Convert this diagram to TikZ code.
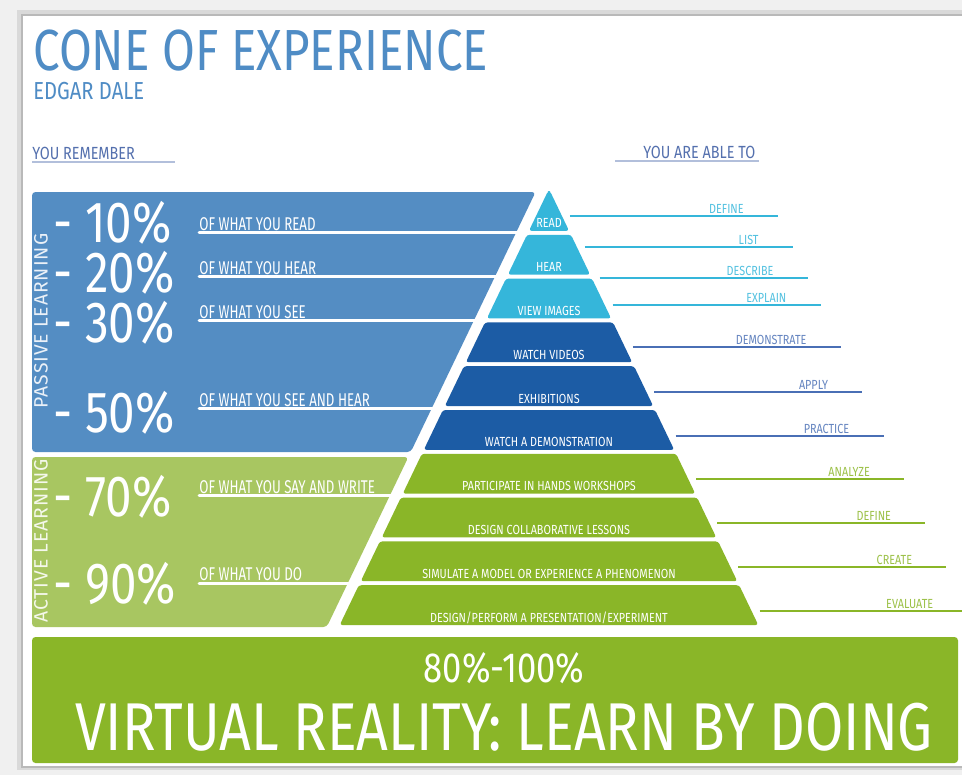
\documentclass[tikz,border=0pt]{standalone}
\usepackage{fontspec}
\setmainfont{Fira Sans}[FakeStretch=0.82]
\newfontfamily\widefont{Fira Sans}[LetterSpace=5]
\newfontfamily\narrowfont{Fira Sans}[FakeStretch=0.72]
\usepackage{tikz}
\usetikzlibrary{positioning,calc}

\definecolor{coneblue}{HTML}{4F8CC5}
\definecolor{headblue}{HTML}{5470AE}
\definecolor{panelblue}{HTML}{548DC3}
\definecolor{panelgreen}{HTML}{A8C661}
\definecolor{skyband}{HTML}{35B6DA}
\definecolor{navyband}{HTML}{1C5CA5}
\definecolor{grassband}{HTML}{8AB628}
\definecolor{midblue}{HTML}{4A6FB5}

\tikzstyle{slicetext}=[text=white, font=\fontsize{7.5}{7.5}\selectfont, inner sep=0pt, anchor=base]
\tikzstyle{pct}=[text=white, font=\fontsize{33}{33}\selectfont, inner sep=0pt, anchor=base west]
\tikzstyle{whatlabel}=[text=white, font=\narrowfont\fontsize{10.5}{10.5}\selectfont, inner sep=0pt, anchor=base west]
\tikzstyle{ablelabel}=[font=\fontsize{7.5}{7.5}\selectfont, inner sep=0pt, anchor=base east]
\tikzstyle{sidelabel}=[text=white!88!panelblue, font=\widefont\fontsize{11}{11}\selectfont, rotate=90, inner sep=0pt]
\tikzstyle{headlabel}=[text=headblue, font=\fontsize{10}{10}\selectfont, inner sep=0pt, anchor=base west]

\begin{document}
\begin{tikzpicture}[x=0.02cm, y=-0.02cm]

            % Page and its shadow
            \fill[gray!12] (0,0) rectangle (962,775);
            \fill[gray!30] (17,10) rectangle (962,770);
            \fill[gray!55] (21,14) rectangle (962,768);
            \fill[white] (23,16) rectangle (962,766);
            \useasboundingbox (0,0) rectangle (962,775);

            % Title
            \node[text=coneblue, font=\fontsize{33}{33}\selectfont, inner sep=0pt, anchor=base west] (title) at (33,70) {CONE OF EXPERIENCE};
            \node[text=coneblue, font=\fontsize{14}{14}\selectfont, inner sep=0pt, anchor=base west] (author) at (33,99) {EDGAR DALE};

            % Column heads
            \node[headlabel] (remember) at (32,159) {YOU REMEMBER};
            \draw[headblue!45, line width=1.2pt] (remember.base west) ++(0,3) -- ++(143,0);
            \node[headlabel] (able) at (643,158) {YOU ARE ABLE TO};
            \draw[headblue!45, line width=1.2pt] (615,161) -- (759,161);

            % Left panels, cut parallel to the cone
            \fill[panelblue, rounded corners=2pt] (32,192) -- ({537-(192-189)*0.48},192) -- ({537-(452-189)*0.48},452) -- (32,452) -- cycle;
            \fill[panelgreen, rounded corners=2pt] (32,457) -- ({537-(457-189)*0.48},457) -- ({537-(627-189)*0.48},627) -- (32,627) -- cycle;

            % White rules under the texts
            \foreach \k in {1,2,3,5,7,9} {
                \pgfmathsetmacro\yr{189+43.8*\k}
                \draw[white, line width=1.7pt, line cap=round] (199,\yr) -- ({545-(\yr-189)*0.48},\yr);
            }

            \node[sidelabel] (passive) at (41,321) {PASSIVE LEARNING};
            \node[sidelabel, text=white!88!panelgreen] (active) at (41,541) {ACTIVE LEARNING};

            % Percentages
            \foreach \y/\p/\w/\t in {242/10/230/READ, 292/20/274/HEAR, 342/30/318/SEE, 432/50/406/SEE AND HEAR, 516/70/493/SAY AND WRITE, 603/90/580/DO} {
                \node[pct] (p\p) at (53,\y) {- \p\%};
                \node[whatlabel] (of\p) at (199,\w) {OF WHAT YOU \t};
            }

            % Cone slices
            \foreach \k/\col/\txt in {0/skyband/READ, 1/skyband/HEAR, 2/skyband/VIEW IMAGES, 3/navyband/WATCH VIDEOS, 4/navyband/EXHIBITIONS, 5/navyband/WATCH A DEMONSTRATION, 6/grassband/PARTICIPATE IN HANDS WORKSHOPS, 7/grassband/DESIGN COLLABORATIVE LESSONS, 8/grassband/SIMULATE A MODEL OR EXPERIENCE A PHENOMENON, 9/grassband/{DESIGN/PERFORM A PRESENTATION/EXPERIMENT}} {
                \pgfmathsetmacro\yt{191+43.8*\k}
                \pgfmathsetmacro\yb{187+43.8*(\k+1)}
                \fill[\col, rounded corners=1.5pt] ({549-(\yt-189)*0.48},\yt) -- ({549+(\yt-189)*0.48},\yt) -- ({549+(\yb-189)*0.48},\yb) -- ({549-(\yb-189)*0.48},\yb) -- cycle;
                \node[slicetext] (s\k) at (549,\yb-3) {\txt};
            }

            % What you are able to do
            \foreach \y/\word/\col [count=\i] in {216/DEFINE/skyband, 247/LIST/skyband, 278/DESCRIBE/skyband, 305/EXPLAIN/skyband, 347/DEMONSTRATE/midblue, 392/APPLY/midblue, 436/PRACTICE/midblue, 479/ANALYZE/grassband, 523/DEFINE/grassband, 567/CREATE/grassband, 611/EVALUATE/grassband} {
                \coordinate (r\i) at ({557+(\y-189)*0.48},\y);
                \coordinate (e\i) at ({765+(\y-189)*0.48},\y);
                \draw[\col, line width=1.2pt] (r\i) -- (e\i);
                \node[ablelabel, text=\col!85] (w\i) at ($(e\i)+(-34,-2.5)$) {\word};
            }

            % Banner
            \fill[grassband, rounded corners=2pt] (32,637) rectangle (958,763);
            \node[text=white, font=\fontsize{24}{24}\selectfont, inner sep=0pt, anchor=base] (range) at (504,682) {80\%-100\%};
            \node[text=white, font=\fontsize{38.5}{38.5}\selectfont, inner sep=0pt, anchor=base] (vr) at (504,750) {VIRTUAL REALITY: LEARN BY DOING};

        \end{tikzpicture}
\end{document}
